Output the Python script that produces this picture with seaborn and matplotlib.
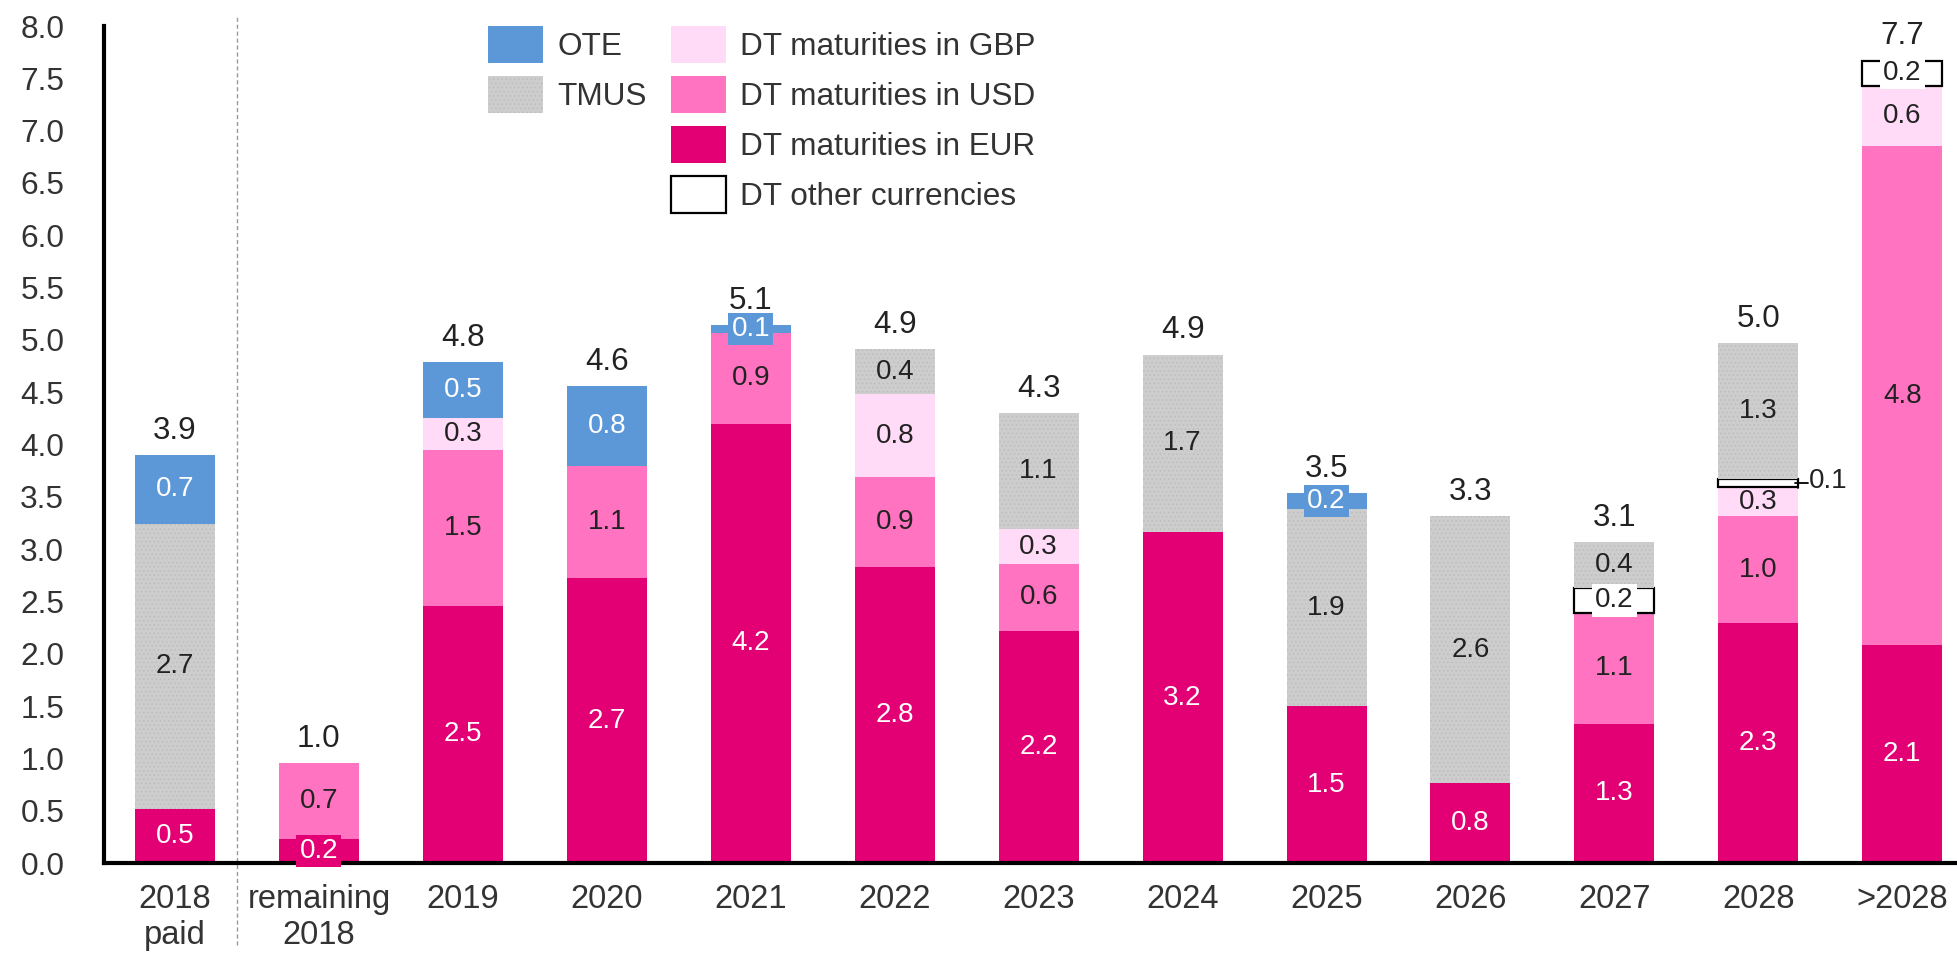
import numpy as np
import pandas as pd
import matplotlib
matplotlib.use("Agg")
import matplotlib.pyplot as plt
from matplotlib.patches import Patch
import seaborn as sns

# ---------------- data ----------------
categories = ["2018\npaid", "remaining\n2018", "2019", "2020", "2021", "2022", "2023",
              "2024", "2025", "2026", "2027", "2028", ">2028"]
eur   = [0.52, 0.23, 2.46, 2.72, 4.20, 2.83, 2.22, 3.16, 1.50, 0.76, 1.33, 2.29, 2.08]
usd   = [0.00, 0.73, 1.49, 1.07, 0.87, 0.86, 0.64, 0.00, 0.00, 0.00, 1.06, 1.03, 4.77]
gbp   = [0.00, 0.00, 0.30, 0.00, 0.00, 0.79, 0.33, 0.00, 0.00, 0.00, 0.00, 0.27, 0.58]
other = [0.00, 0.00, 0.00, 0.00, 0.00, 0.00, 0.00, 0.00, 0.00, 0.00, 0.24, 0.08, 0.24]
tmus  = [2.72, 0.00, 0.00, 0.00, 0.00, 0.43, 1.11, 1.70, 1.88, 2.56, 0.44, 1.30, 0.00]
ote   = [0.66, 0.00, 0.54, 0.77, 0.07, 0.00, 0.00, 0.00, 0.16, 0.00, 0.00, 0.00, 0.00]

series_names = ["DT maturities in EUR", "DT maturities in USD", "DT maturities in GBP",
                "DT other currencies", "TMUS", "OTE"]
series_values = [eur, usd, gbp, other, tmus, ote]
y_ticks = np.arange(0, 8.01, 0.5)

# ---------------- style ----------------
sns.set_style("white")
plt.rcParams["font.family"] = ["Liberation Sans", "DejaVu Sans"]
TXT = "#333333"

styles = {
    "DT maturities in EUR": dict(color="#E20074", edgecolor="#E20074", linewidth=0, hatch=None, txt="white"),
    "DT maturities in USD": dict(color="#FF73C0", edgecolor="#FF73C0", linewidth=0, hatch=None, txt="#222222"),
    "DT maturities in GBP": dict(color="#FFDBF8", edgecolor="#FFDBF8", linewidth=0, hatch=None, txt="#222222"),
    "DT other currencies": dict(color="#FFFFFF", edgecolor="black", linewidth=1.6, hatch=None, txt="#222222"),
    "TMUS": dict(color="#CDCDCD", edgecolor="#BDBDBD", linewidth=0, hatch="....", txt="#222222"),
    "OTE": dict(color="#5C98D8", edgecolor="#5C98D8", linewidth=0, hatch=None, txt="white"),
}
plt.rcParams["hatch.linewidth"] = 0.6

W, H = 1957, 955
fig = plt.figure(figsize=(W / 100, H / 100), dpi=100)
ax = fig.add_axes([104 / W, 1 - 863 / H, 1 - 104 / W, (863 - 26) / H])

bar_w = 0.556
n = len(categories)
bottom = np.zeros(n)
segments = []
for name, vals in zip(series_names, series_values):
    vals = np.asarray(vals, dtype=float)
    st = styles[name]
    mask = vals > 0
    df = pd.DataFrame({"cat": np.array(categories)[mask], "val": vals[mask]})
    kw = dict(edgecolor=st["edgecolor"], linewidth=st["linewidth"])
    if st["hatch"]:
        kw["hatch"] = st["hatch"]
    sns.barplot(data=df, x="cat", y="val", order=categories, color=st["color"],
                saturation=1, width=bar_w, errorbar=None, ax=ax,
                bottom=bottom[mask], zorder=2, **kw)
    for i in np.where(mask)[0]:
        segments.append((i, bottom[i], vals[i], name))
    bottom = bottom + vals
totals = bottom

# ---------------- segment labels ----------------
SEG_FS = 20
for i, b, h, name in segments:
    st = styles[name]
    yc = b + h / 2
    lab = f"{h:.1f}"
    if name == "DT other currencies" and h < 0.1:
        xe = i + bar_w / 2
        ax.plot([xe - 0.02, xe + 0.07], [yc, yc], color="black", lw=1.3, zorder=5, clip_on=False)
        ax.plot([xe - 0.005] * 2, [yc - 0.045, yc + 0.045], color="black", lw=1.3, zorder=5)
        ax.text(xe + 0.075, yc + 0.02, lab, ha="left", va="center", fontsize=SEG_FS,
                color="#222222", zorder=6)
    elif h < 0.25:
        ax.text(i, yc, lab, ha="center", va="center", fontsize=SEG_FS, color=st["txt"], zorder=6,
                bbox=dict(boxstyle="square,pad=0.12", facecolor=st["color"], edgecolor="none"))
    else:
        ax.text(i, yc, lab, ha="center", va="center", fontsize=SEG_FS, color=st["txt"], zorder=6)

# ---------------- total labels ----------------
for i, t in enumerate(totals):
    ax.annotate(f"{t:.1f}", xy=(i, t), xytext=(0, 6.5), textcoords="offset points",
                ha="center", va="bottom", fontsize=22.6, color="#222222", zorder=6)

# ---------------- axes ----------------
ax.set_xlim(-0.493, 12.38)
ax.set_ylim(0, 8)
ax.set_yticks(y_ticks)
ax.set_yticklabels([f"{v:.1f}" for v in y_ticks])
ax.set_xlabel("")
ax.set_ylabel("")
ax.tick_params(axis="y", length=8.6, width=2.8, pad=20, labelsize=22.8, colors="black",
               labelcolor=TXT, direction="out")
ax.tick_params(axis="x", length=0, pad=15, labelsize=23.5, labelcolor=TXT)
for lbl in ax.get_xticklabels():
    lbl.set_linespacing(1.2)
for s in ["top", "right"]:
    ax.spines[s].set_visible(False)
for s in ["left", "bottom"]:
    ax.spines[s].set_linewidth(3)
    ax.spines[s].set_color("black")
    ax.spines[s].set_zorder(4)

# divider dashed line
ax.plot([0.43, 0.43], [-0.78, 8.1], color="#999999", lw=1.0, linestyle=(0, (3, 2)),
        clip_on=False, zorder=1)

# ---------------- legend ----------------
def mk(name):
    st = styles[name]
    return Patch(facecolor=st["color"], edgecolor=st["edgecolor"],
                 linewidth=st["linewidth"] if st["linewidth"] else 0,
                 hatch=st["hatch"], label=name)

blank = Patch(facecolor="none", edgecolor="none", label=" ")
handles = [mk("OTE"), mk("TMUS"), blank, blank,
           mk("DT maturities in GBP"), mk("DT maturities in USD"),
           mk("DT maturities in EUR"), mk("DT other currencies")]
leg = fig.legend(handles=handles, labels=[h.get_label() for h in handles], ncol=2,
                 loc="upper left", bbox_to_anchor=(488 / W, 1 - 26 / H),
                 bbox_transform=fig.transFigure, frameon=False, fontsize=22.7,
                 handlelength=1.75, handleheight=1.43, handletextpad=0.44,
                 labelspacing=0.41, columnspacing=0.76, borderpad=0, borderaxespad=0)
for t in leg.get_texts():
    t.set_color(TXT)

fig.savefig("out.png", dpi=100)
